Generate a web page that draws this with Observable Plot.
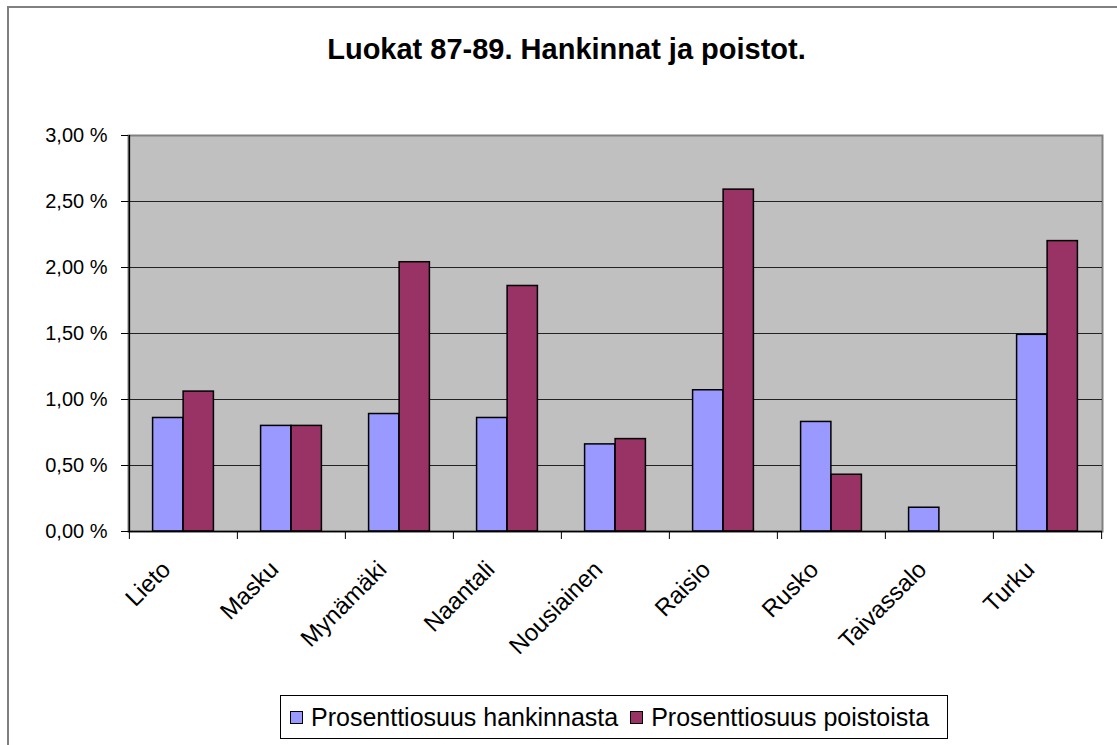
<!DOCTYPE html>
<html><head><meta charset="utf-8">
<script src="https://cdn.jsdelivr.net/npm/d3@7"></script>
<script src="https://cdn.jsdelivr.net/npm/@observablehq/plot@0.6"></script>
<style>
body{margin:0;background:#fff;font-family:"Liberation Sans",Arial,sans-serif;}
#wrap{position:relative;width:1117px;height:745px;overflow:hidden;background:#fff;}
#border{position:absolute;left:7px;top:6px;width:1300px;height:900px;border-top:2px solid #808080;border-left:2px solid #808080;}
#title{position:absolute;left:8px;top:31px;width:1117px;text-align:center;font-weight:bold;font-size:29px;line-height:36px;color:#000;}
#chart{position:absolute;left:0;top:100px;}
#legend{position:absolute;left:280px;top:695px;width:668px;height:44px;box-sizing:border-box;border:1px solid #000;display:flex;align-items:center;padding-left:9px;font-size:25px;color:#000;background:#fff;}
#legend .sw{display:inline-block;width:11px;height:11px;border:1.5px solid #000;margin-right:8px;}
#legend .it{display:flex;align-items:center;margin-right:12px;white-space:nowrap;}
</style></head>
<body><div id="wrap"><div id="border"></div><div id="title">Luokat 87-89. Hankinnat ja poistot.</div><div id="chart"></div><div id="legend"></div></div>
<script>
const categories = ["Lieto","Masku","Mynämäki","Naantali","Nousiainen","Raisio","Rusko","Taivassalo","Turku"];
const hankinnasta = [0.86,0.80,0.89,0.86,0.66,1.07,0.83,0.18,1.49];
const poistoista = [1.06,0.80,2.04,1.86,0.70,2.59,0.43,0,2.20];
const seriesNames = ["Prosenttiosuus hankinnasta","Prosenttiosuus poistoista"];
const seriesColors = ["#9999FF","#993366"];
const yTicks = [0,0.5,1,1.5,2,2.5,3];

const W=1117, H=590, mL=128, mR=15, mT=35, mB=159;
const step=(W-mL-mR)/categories.length;
const barW=step*0.282;
const rows=categories.flatMap((c,i)=>[
  {cat:c,series:seriesNames[0],value:hankinnasta[i]},
  {cat:c,series:seriesNames[1],value:poistoista[i]}
]);
const plot=Plot.plot({
  width:W,height:H,marginLeft:mL,marginRight:mR,marginTop:mT,marginBottom:mB,
  style:{fontFamily:"Liberation Sans, Arial, sans-serif",fontSize:"20px",color:"#000",background:"transparent",overflow:"visible"},
  x:{domain:categories,padding:0,label:null},
  y:{domain:[0,3],label:null},
  marks:[
    Plot.frame({fill:"#C0C0C0",stroke:"#808080",strokeWidth:2}),
    Plot.ruleY(yTicks.slice(1,-1),{stroke:"#222",strokeWidth:1.2}),
    Plot.barY(rows.filter(d=>d.series===seriesNames[0]&&d.value>0),{x:"cat",y:"value",fill:seriesColors[0],stroke:"#000",strokeWidth:1.5,insetLeft:step/2-barW,insetRight:step/2}),
    Plot.barY(rows.filter(d=>d.series===seriesNames[1]&&d.value>0),{x:"cat",y:"value",fill:seriesColors[1],stroke:"#000",strokeWidth:1.5,insetLeft:step/2,insetRight:step/2-barW}),
    Plot.ruleY([0],{stroke:"#000",strokeWidth:1.5}),
    Plot.ruleX([categories[0]],{dx:-step/2,stroke:"#000",strokeWidth:1.5}),
    Plot.axisY({ticks:yTicks,tickFormat:d=>d.toFixed(2).replace(".",",")+" %",tickSize:7,tickPadding:14,fontSize:20,stroke:"#000",label:null}),
    Plot.axisX(categories,{tickSize:8,tickFormat:()=>"",dx:-step/2,stroke:"#000",label:null}),
    Plot.axisX([categories[categories.length-1]],{tickSize:8,tickFormat:()=>"",dx:step/2,stroke:"#000",label:null}),
    Plot.axisX(categories,{tickSize:0,tickRotate:-45,tickPadding:34,dx:-17,fontSize:24,label:null})
  ]
});
document.getElementById("chart").appendChild(plot);
const lg=document.getElementById("legend");
seriesNames.forEach((n,i)=>{
  const it=document.createElement("span");it.className="it";
  const sw=document.createElement("span");sw.className="sw";sw.style.background=seriesColors[i];
  it.appendChild(sw);it.appendChild(document.createTextNode(n));lg.appendChild(it);
});
</script>
</body></html>
